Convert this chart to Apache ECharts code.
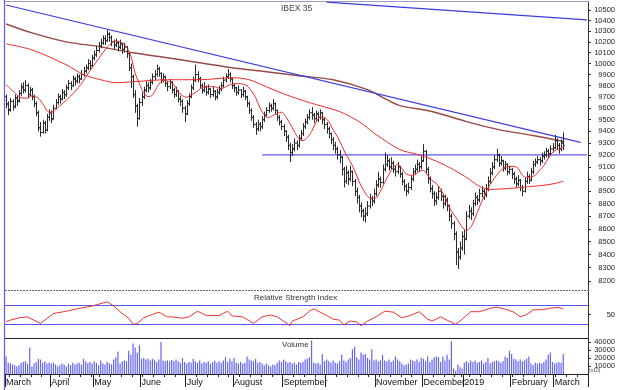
<!DOCTYPE html>
<html><head><meta charset="utf-8">
<script src="https://cdn.jsdelivr.net/npm/echarts@6/dist/echarts.min.js"></script>
<style>html,body{margin:0;padding:0;background:#fff}#c{width:618px;height:390px}</style>
</head><body><div id="c"></div>
<script>
// ---- categories: trading days (Madrid exchange) from 1 Mar 2018, plus empty slots at the right ----
const startDay = [2018, 2, 1];
const holidays = ['2018-03-30','2018-04-02','2018-05-01','2018-12-25','2018-12-26','2019-01-01'];
const totalSlots = 271;
const monthNames = ['2019','February','March','April','May','June','July','August','September','','November','December'];

// ---- price bars (IBEX 35 daily) ----
const opens = [9700,9630,9590,9660,9620,9690,9670,9730,9790,9760,9800,9720,9760,9700,9640,9560,9430,9390,9470,9410,9520,9560,9510,9600,9650,9700,9680,9740,9720,9780,9820,9800,9860,9840,9880,9860,9900,9930,9960,10000,9980,10050,10080,10120,10160,10190,10230,10210,10270,10240,10200,10170,10190,10150,10180,10130,10150,10090,9960,9880,9720,9620,9510,9650,9700,9760,9800,9780,9830,9880,9900,9950,9910,9850,9880,9820,9790,9830,9760,9720,9750,9680,9660,9600,9550,9640,9700,9780,9850,9900,9860,9800,9760,9790,9740,9770,9720,9750,9700,9740,9770,9800,9850,9880,9900,9860,9800,9780,9740,9760,9720,9750,9700,9640,9580,9520,9460,9420,9460,9440,9500,9540,9580,9620,9600,9640,9580,9520,9480,9440,9400,9350,9280,9220,9250,9300,9280,9340,9380,9440,9480,9520,9560,9540,9510,9550,9520,9560,9500,9460,9420,9380,9330,9280,9250,9200,9180,9080,8980,9050,9000,9060,8980,8900,8850,8780,8740,8700,8720,8780,8840,8820,8880,8950,9000,8970,9080,9120,9150,9100,9130,9080,9060,9100,9040,8980,8940,8900,8930,9000,9060,9080,9120,9100,9150,9230,9080,9000,8920,8880,8820,8850,8900,8860,8800,8830,8780,8700,8640,8560,8420,8380,8450,8540,8520,8700,8740,8720,8800,8850,8830,8880,8900,8870,8920,8980,9050,9100,9160,9200,9130,9150,9090,9120,9060,9080,9040,9000,8960,8990,8930,8900,8980,9020,8990,9060,9120,9140,9160,9150,9190,9200,9230,9210,9250,9260,9320,9280,9250,9300];
const highs = [9720,9660,9690,9680,9720,9710,9760,9820,9830,9850,9820,9790,9780,9720,9660,9580,9480,9500,9490,9550,9590,9580,9630,9680,9730,9720,9770,9760,9810,9850,9840,9890,9880,9910,9900,9940,9970,9990,10040,10030,10080,10120,10160,10200,10230,10260,10260,10310,10290,10260,10220,10230,10210,10220,10190,10190,10160,10100,10000,9900,9760,9640,9690,9740,9790,9840,9830,9860,9910,9940,9990,9970,9920,9910,9890,9840,9860,9840,9780,9790,9760,9710,9680,9620,9670,9730,9810,9880,9990,9930,9880,9820,9830,9800,9810,9780,9790,9760,9770,9800,9830,9880,9910,9950,9920,9870,9820,9790,9800,9770,9790,9760,9710,9660,9600,9540,9480,9500,9480,9530,9570,9610,9650,9640,9680,9650,9590,9540,9500,9460,9410,9370,9300,9290,9340,9320,9370,9410,9470,9510,9550,9590,9610,9560,9580,9570,9590,9570,9520,9480,9440,9390,9350,9310,9270,9240,9190,9100,9110,9070,9110,9070,9000,8930,8870,8810,8760,8770,8820,8880,8860,8920,8990,9060,9020,9120,9220,9200,9170,9180,9150,9110,9140,9110,9060,9000,8960,8970,9030,9090,9120,9160,9140,9190,9290,9240,9100,9020,8950,8900,8890,8940,8920,8880,8870,8850,8790,8720,8660,8580,8450,8500,8580,8590,8740,8790,8770,8830,8890,8870,8920,8940,8920,8960,9020,9090,9140,9200,9250,9210,9190,9160,9150,9130,9110,9090,9060,9020,9030,9000,8950,9010,9060,9040,9090,9150,9170,9190,9180,9220,9230,9260,9250,9280,9300,9370,9340,9300,9330,9390];
const lows = [9600,9540,9570,9580,9600,9620,9650,9710,9730,9740,9690,9700,9670,9610,9530,9400,9355,9380,9380,9400,9490,9470,9500,9590,9630,9640,9670,9680,9700,9760,9760,9790,9800,9820,9820,9850,9880,9910,9940,9940,9970,10030,10060,10100,10140,10170,10170,10200,10200,10160,10130,10150,10110,10130,10090,10100,10050,9930,9780,9690,9560,9440,9500,9620,9680,9740,9740,9760,9810,9850,9880,9880,9820,9830,9790,9750,9770,9730,9690,9700,9650,9620,9560,9480,9540,9620,9690,9760,9830,9830,9770,9730,9740,9710,9720,9690,9700,9670,9680,9720,9750,9780,9830,9860,9830,9770,9740,9710,9720,9690,9700,9670,9610,9550,9490,9430,9370,9400,9400,9420,9480,9520,9560,9570,9580,9550,9490,9450,9410,9360,9310,9240,9140,9190,9230,9240,9260,9320,9360,9420,9460,9500,9500,9470,9490,9480,9500,9460,9420,9380,9340,9290,9240,9210,9160,9130,9030,8930,8960,8950,8980,8940,8860,8800,8730,8690,8660,8650,8700,8760,8780,8800,8860,8930,8930,8960,9060,9100,9070,9080,9050,9020,9040,9010,8950,8900,8860,8880,8910,8980,9040,9060,9060,9080,9140,9040,8960,8890,8840,8780,8790,8830,8820,8760,8780,8740,8660,8600,8510,8320,8290,8360,8430,8400,8510,8680,8670,8700,8780,8790,8810,8850,8830,8850,8900,8960,9030,9080,9140,9100,9110,9060,9070,9030,9040,9000,8960,8930,8940,8900,8860,8890,8960,8960,8980,9040,9100,9120,9110,9130,9160,9180,9170,9190,9220,9250,9240,9210,9230,9240];
const closes = [9640,9580,9660,9610,9690,9660,9730,9780,9760,9800,9720,9760,9700,9640,9560,9430,9390,9470,9410,9520,9560,9500,9600,9650,9700,9680,9740,9720,9780,9820,9800,9860,9840,9880,9860,9900,9930,9960,10000,9980,10050,10080,10120,10160,10190,10230,10210,10270,10240,10200,10170,10190,10150,10180,10130,10150,10090,9960,9880,9720,9620,9510,9650,9700,9760,9800,9780,9830,9880,9900,9950,9910,9850,9880,9820,9790,9830,9760,9720,9750,9680,9660,9600,9550,9640,9700,9780,9850,9900,9860,9800,9760,9790,9740,9770,9720,9750,9700,9740,9770,9800,9850,9880,9900,9860,9800,9780,9740,9760,9720,9750,9700,9640,9580,9520,9460,9420,9460,9440,9500,9540,9580,9620,9600,9640,9580,9520,9480,9440,9400,9350,9280,9220,9250,9300,9280,9340,9380,9440,9480,9520,9560,9540,9510,9550,9520,9560,9500,9460,9420,9380,9330,9280,9250,9200,9180,9080,8980,9050,9000,9060,8980,8900,8850,8780,8740,8700,8720,8780,8840,8820,8880,8950,9000,8970,9080,9120,9150,9100,9130,9080,9060,9100,9040,8980,8940,8900,8930,9000,9060,9080,9120,9100,9150,9230,9080,9000,8920,8880,8820,8850,8900,8860,8800,8830,8780,8700,8640,8560,8420,8380,8450,8540,8520,8700,8740,8720,8800,8850,8830,8880,8900,8870,8920,8980,9050,9100,9160,9200,9130,9150,9090,9120,9060,9080,9040,9000,8960,8990,8930,8900,8980,9020,8990,9060,9120,9140,9160,9150,9190,9200,9230,9210,9250,9260,9320,9280,9250,9300,9280];

// ---- moving averages: [day index, value] ----
const maShort = [[0,9808],[3,9755],[7,9693],[10,9688],[12,9710],[15,9688],[17,9640],[20,9566],[22,9570],[24,9605],[28,9671],[32,9746],[35,9817],[39,9934],[43,10043],[47,10148],[51,10208],[54,10189],[56,10152],[58,10070],[60,9910],[62,9817],[64,9737],[66,9702],[68,9715],[70,9782],[72,9835],[74,9849],[76,9831],[78,9808],[80,9746],[82,9710],[84,9697],[86,9719],[88,9737],[91,9782],[94,9795],[97,9790],[100,9773],[103,9799],[106,9817],[109,9817],[112,9799],[114,9755],[116,9693],[118,9605],[120,9544],[122,9518],[124,9536],[126,9553],[128,9566],[130,9527],[132,9466],[134,9398],[136,9338],[138,9321],[140,9347],[142,9398],[144,9475],[146,9522],[148,9518],[150,9484],[152,9415],[154,9355],[156,9279],[158,9204],[160,9145],[162,9071],[164,8981],[166,8915],[168,8859],[170,8843],[172,8847],[174,8899],[176,8972],[178,9038],[180,9096],[182,9120],[184,9087],[186,9042],[188,9030],[190,9034],[192,9063],[194,9071],[196,9030],[198,8989],[200,8964],[202,8915],[204,8851],[206,8771],[208,8715],[210,8667],[212,8613],[214,8589],[216,8613],[218,8683],[220,8771],[222,8851],[224,8923],[226,8981],[228,9030],[230,9071],[232,9096],[234,9104],[236,9104],[238,9087],[240,9030],[242,9013],[244,9017],[246,9030],[248,9071],[250,9112],[252,9170],[254,9220],[256,9245],[259,9262]];
const maMid = [[0,10180],[12,10125],[28,9988],[36,9898],[44,9853],[51,9826],[59,9835],[75,9853],[90,9853],[105,9871],[113,9853],[121,9790],[130,9720],[141,9649],[155,9571],[164,9484],[172,9372],[183,9245],[191,9204],[198,9162],[206,9096],[214,9013],[220,8940],[225,8915],[234,8923],[245,8940],[253,8956],[259,8981]];
const maLong = [[0,10367],[12,10283],[28,10199],[44,10153],[59,10098],[75,10052],[90,10007],[105,9961],[121,9925],[136,9889],[152,9853],[168,9764],[177,9675],[183,9623],[198,9571],[214,9484],[229,9415],[245,9364],[259,9313]];

// ---- drawn trend lines ----
const trendDown = [[0,10548],[267,9305]];
const trendUpper = [[149,10575],[270,10405]];
const support = [[119,9200],[270,9200]];

// ---- RSI ----
const rsi = [[0,35],[2,38],[6,43],[10,45],[12,40],[16,31],[18,38],[22,52],[28,57],[34,63],[40,68],[47,77],[50,68],[53,56],[57,42],[59,29],[61,31],[64,43],[68,50],[71,55],[75,45],[77,45],[82,42],[85,45],[89,57],[93,48],[99,48],[103,57],[105,47],[110,45],[115,31],[119,45],[123,49],[126,45],[129,36],[132,26],[133,36],[138,45],[141,57],[143,62],[146,55],[149,48],[152,40],[155,38],[157,28],[160,36],[163,34],[165,26],[168,36],[172,45],[176,57],[180,55],[184,43],[188,48],[192,56],[196,40],[198,36],[202,45],[205,38],[209,29],[212,40],[216,56],[220,56],[225,63],[228,66],[233,60],[236,55],[239,45],[242,50],[245,60],[249,60],[254,64],[257,65],[259,62]];
const rsiLevels = [70, 30];

// ---- volume ----
const volumes = [22000,14000,13000,12000,11000,9500,11000,14000,15000,16000,13000,33000,9500,13000,15000,19000,18000,14000,16000,13000,14500,13000,14000,12000,9500,11000,13000,12000,9500,13000,11000,14000,12000,13000,14000,12000,19000,16000,13500,15000,13000,16000,14000,11000,17000,13000,12000,15000,13000,12000,18000,21000,28000,13000,16000,17000,16000,29000,24000,38000,33000,27000,36000,19000,20000,18000,19000,17000,19000,18000,15000,18000,40000,17000,16000,17000,16000,17500,16000,18000,16000,14000,20000,15000,13000,15000,14000,19000,16000,14000,17000,13000,15000,14000,16000,13000,15000,17000,14000,16000,14000,17000,21000,15000,19000,16000,20000,14000,13000,15000,13000,14000,22000,18000,17000,16000,19000,14000,15000,13000,11000,13000,11000,9500,12000,11000,14000,17000,15000,18000,16000,14000,15000,13000,14000,12000,15000,14000,15000,18000,19000,21000,42000,14000,13000,14000,12000,25000,16000,18000,16000,14000,17000,14000,13000,16000,24000,17000,15000,18000,20000,31000,34000,21000,18000,27000,24000,25000,20000,18000,31000,17000,18000,16000,17000,24000,17000,16000,18000,15000,17000,22000,18000,16000,13000,11000,12000,13000,18000,17000,16000,18000,15000,20000,19000,16000,22000,15000,18000,21000,22000,21000,15000,22000,17000,24000,18000,41000,7000,4000,12000,8500,7000,14000,16000,14000,17000,15000,17000,14000,15000,17000,13000,15000,20000,13000,15000,16000,17000,16000,14000,16000,22000,20000,29000,25000,19000,18000,16000,18000,16000,17000,19000,22000,13000,11000,14000,13000,14000,13000,15000,18000,24000,27000,15000,13000,14000,15000,14000,25000];

// ---- axis tick labels ----
const priceTicks = [8200,8300,8400,8500,8600,8700,8800,8900,9000,9100,9200,9300,9400,9500,9600,9700,9800,9900,10000,10100,10200,10300,10400,10500];
const rsiTicks = [50];
const volTicks = [10000,20000,30000,40000];

// build trading day categories
const dates = [];
{
  const d = new Date(Date.UTC(startDay[0], startDay[1], startDay[2]));
  while (dates.length < totalSlots) {
    const dow = d.getUTCDay();
    const s = d.toISOString().slice(0, 10);
    if (dow !== 0 && dow !== 6 && holidays.indexOf(s) < 0) dates.push(s);
    d.setUTCDate(d.getUTCDate() + 1);
  }
}
const monthStart = dates.map((s, i) => i === 0 || s.slice(5, 7) !== dates[i - 1].slice(5, 7));
const dowOf = s => new Date(s + 'T00:00:00Z').getUTCDay();
const weekStart = dates.map((s, i) => i > 0 && dowOf(s) < dowOf(dates[i - 1]));
const monthLabel = i => monthNames[parseInt(dates[i].slice(5, 7), 10) - 1];

const bars = closes.map((c, i) => [i, opens[i], highs[i], lows[i], c]);
const FONT = 'Liberation Sans, Arial, sans-serif';
const plain = v => String(Math.round(v));

const chart = echarts.init(document.getElementById('c'), null, {renderer: 'canvas'});
const hiddenX = gi => ({type: 'category', gridIndex: gi, data: dates, boundaryGap: true,
  axisLine: {show: false}, axisTick: {show: false}, axisLabel: {show: false}, splitLine: {show: false}});
const rightLabel = vals => ({show: true, customValues: vals, formatter: plain, align: 'right', margin: 27,
  fontSize: 7.5, color: '#222', fontFamily: FONT});

chart.setOption({
  animation: false,
  backgroundColor: '#fff',
  grid: [
    {left: 5, width: 583.5, top: 2, height: 288},
    {left: 5, width: 583.5, top: 291, height: 47},
    {left: 5, width: 583.5, top: 338, height: 36}
  ],
  xAxis: [
    hiddenX(0),
    hiddenX(1),
    {type: 'category', gridIndex: 2, position: 'bottom', data: dates, boundaryGap: true,
      axisLine: {show: true, lineStyle: {color: '#222', width: 1}},
      axisTick: {show: true, interval: (i) => weekStart[i], length: 3, lineStyle: {color: '#222'}},
      axisLabel: {show: true, interval: (i) => monthStart[i] && monthLabel(i) !== '', formatter: (v, i) => monthLabel(i),
        align: 'left', margin: 4, fontSize: 9, color: '#111', fontFamily: FONT},
      splitLine: {show: false}},
    {type: 'category', gridIndex: 2, position: 'bottom', offset: 0, data: dates, boundaryGap: true,
      axisLine: {show: false},
      axisTick: {show: true, interval: (i) => monthStart[i], length: 13, lineStyle: {color: '#222'}},
      axisLabel: {show: false}, splitLine: {show: false}}
  ],
  yAxis: [
    {type: 'log', logBase: 10, gridIndex: 0, position: 'right', min: 8133, max: 10577,
      axisLine: {show: true, lineStyle: {color: '#333'}},
      axisTick: {show: true, customValues: priceTicks, length: 3, lineStyle: {color: '#333'}},
      axisLabel: rightLabel(priceTicks),
      splitLine: {show: false}},
    {type: 'value', gridIndex: 1, position: 'right', min: 0, max: 100,
      axisLine: {show: true, lineStyle: {color: '#333'}},
      axisTick: {show: true, customValues: rsiTicks, length: 3, lineStyle: {color: '#333'}},
      axisLabel: rightLabel(rsiTicks),
      splitLine: {show: false}},
    {type: 'value', gridIndex: 2, position: 'right', min: 0, max: 45000,
      axisLine: {show: true, lineStyle: {color: '#333'}},
      axisTick: {show: true, customValues: volTicks, length: 3, lineStyle: {color: '#333'}},
      axisLabel: rightLabel(volTicks),
      splitLine: {show: false}}
  ],
  series: [
    {type: 'line', xAxisIndex: 0, yAxisIndex: 0, data: maLong, smooth: 0.3, showSymbol: false, silent: true,
      lineStyle: {color: '#9a4a46', width: 1.4}, z: 2},
    {type: 'line', xAxisIndex: 0, yAxisIndex: 0, data: trendDown, showSymbol: false, silent: true,
      lineStyle: {color: '#3c3ce4', width: 1.2}, z: 3},
    {type: 'line', xAxisIndex: 0, yAxisIndex: 0, data: trendUpper, showSymbol: false, silent: true, clip: true,
      lineStyle: {color: '#3c3ce4', width: 1.2}, z: 3},
    {type: 'line', xAxisIndex: 0, yAxisIndex: 0, data: support, showSymbol: false, silent: true,
      lineStyle: {color: '#5a5af5', width: 1.2}, z: 3},
    {type: 'custom', xAxisIndex: 0, yAxisIndex: 0, data: bars, encode: {x: 0, y: [1, 2, 3, 4]}, z: 4, silent: true,
      renderItem: function (params, api) {
        const i = api.value(0);
        const o = api.coord([i, api.value(1)]);
        const h = api.coord([i, api.value(2)]);
        const l = api.coord([i, api.value(3)]);
        const c = api.coord([i, api.value(4)]);
        const x = Math.round(o[0]) + 0.5;
        const st = {stroke: '#2a2a2a', lineWidth: 1};
        return {type: 'group', children: [
          {type: 'line', shape: {x1: x, y1: h[1], x2: x, y2: l[1]}, style: st},
          {type: 'line', shape: {x1: x - 1.5, y1: o[1], x2: x, y2: o[1]}, style: st},
          {type: 'line', shape: {x1: x, y1: c[1], x2: x + 1.5, y2: c[1]}, style: st}
        ]};
      }},
    {type: 'line', xAxisIndex: 0, yAxisIndex: 0, data: maMid, smooth: 0.3, showSymbol: false, silent: true,
      lineStyle: {color: '#ee2b2b', width: 1}, z: 5},
    {type: 'line', xAxisIndex: 0, yAxisIndex: 0, data: maShort, smooth: 0.3, showSymbol: false, silent: true,
      lineStyle: {color: '#ee2b2b', width: 1}, z: 5},
    {type: 'line', xAxisIndex: 1, yAxisIndex: 1, data: rsi, showSymbol: false, silent: true,
      lineStyle: {color: '#ee3333', width: 1}, z: 5,
      markLine: {silent: true, symbol: 'none', label: {show: false},
        lineStyle: {color: '#5555ee', width: 1, type: 'solid'},
        data: rsiLevels.map(v => ({yAxis: v}))}},
    {type: 'bar', xAxisIndex: 2, yAxisIndex: 2, data: volumes, barWidth: 1.2, silent: true,
      itemStyle: {color: '#6464ec'}}
  ],
  graphic: [
    {type: 'line', shape: {x1: 5, y1: 1.5, x2: 588, y2: 1.5}, style: {stroke: '#9c9cc8', lineWidth: 1}, silent: true},
    {type: 'line', shape: {x1: 5, y1: 290.5, x2: 588, y2: 290.5}, style: {stroke: '#666', lineWidth: 1, lineDash: [2, 1]}, silent: true},
    {type: 'line', shape: {x1: 5, y1: 338.5, x2: 588, y2: 338.5}, style: {stroke: '#222', lineWidth: 1}, silent: true},
    {type: 'line', shape: {x1: 4.5, y1: 0, x2: 4.5, y2: 390}, style: {stroke: '#5a5af0', lineWidth: 1.2}, silent: true},
    {type: 'text', left: 281, top: 4, style: {text: 'IBEX 35', fontSize: 8.5, fill: '#444', font: '8.5px ' + FONT}, silent: true},
    {type: 'text', left: 254, top: 294, style: {text: 'Relative Strength Index', fontSize: 8, fill: '#333', font: '8px ' + FONT}, silent: true},
    {type: 'text', left: 282, top: 341, style: {text: 'Volume', fontSize: 8, fill: '#333', font: '8px ' + FONT}, silent: true},
    {type: 'text', left: 589, top: 368, style: {text: '(x10)', fontSize: 5, fill: '#444', font: '5px ' + FONT}, silent: true}
  ]
});
</script>
</body></html>
